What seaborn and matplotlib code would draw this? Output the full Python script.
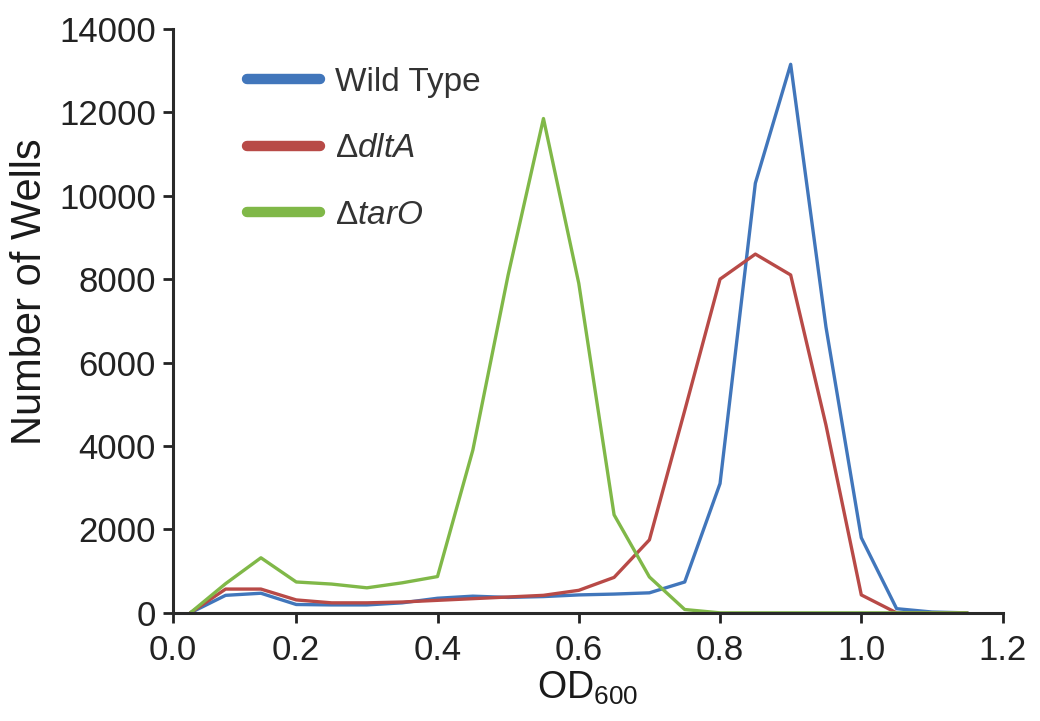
import numpy as np
import pandas as pd
import matplotlib
matplotlib.use("Agg")
import matplotlib.pyplot as plt
from matplotlib.lines import Line2D
import seaborn as sns

# OD600 bins
od = [0.05, 0.10, 0.15, 0.20, 0.25, 0.30, 0.35, 0.40, 0.45, 0.50, 0.55,
      0.60, 0.65, 0.70, 0.75, 0.80, 0.85, 0.90, 0.95, 1.00, 1.05, 1.10, 1.15]

wild_type = [0, 420, 470, 200, 190, 190, 240, 350, 400, 370, 390,
             430, 450, 480, 740, 3100, 10300, 13150, 6850, 1800, 100, 20, 0]
dlta = [0, 570, 570, 310, 240, 240, 260, 300, 340, 380, 420,
        540, 850, 1750, 4850, 8000, 8600, 8100, 4500, 430, 0, 0, 0]
taro = [0, 700, 1320, 740, 690, 600, 720, 870, 3900, 8100, 11850,
        7900, 2350, 860, 80, 0, 0, 0, 0, 0, 0, 0, 0]

strains = ["Wild Type", "dltA", "tarO"]
labels = ["Wild Type", r"$\Delta$$\it{dltA}$", r"$\Delta$$\it{tarO}$"]
colors = ["#4176bb", "#b84a47", "#80b848"]

xticks = [0.025, 0.2, 0.4, 0.6, 0.8, 1.0, 1.2]
xticklabels = ["0.0", "0.2", "0.4", "0.6", "0.8", "1.0", "1.2"]
yticks = [0, 2000, 4000, 6000, 8000, 10000, 12000, 14000]

df = pd.DataFrame({
    "OD": od * 3,
    "Wells": wild_type + dlta + taro,
    "Strain": np.repeat(strains, len(od)),
})

sns.set_style("ticks")
plt.rcParams["font.family"] = ["Liberation Sans", "DejaVu Sans"]
plt.rcParams["mathtext.fontset"] = "custom"
plt.rcParams["mathtext.rm"] = "Liberation Sans"
plt.rcParams["mathtext.it"] = "Liberation Sans:italic"

fig = plt.figure(figsize=(10.4, 7.21), dpi=100)
ax = fig.add_axes([0.166, 0.150, 0.798, 0.81])

sns.lineplot(data=df, x="OD", y="Wells", hue="Strain", palette=colors,
             linewidth=2.4, legend=False, ax=ax)

ax.set_xlim(0.025, 1.2)
ax.set_ylim(0, 14000)
ax.set_xticks(xticks)
ax.set_xticklabels(xticklabels)
ax.set_yticks(yticks)
ax.tick_params(axis="both", labelsize=25, colors="#222222", width=2,
               length=7, direction="out", pad=5)
ax.tick_params(axis="x", pad=8)
for s in ["top", "right"]:
    ax.spines[s].set_visible(False)
for s in ["left", "bottom"]:
    ax.spines[s].set_linewidth(2.2)
    ax.spines[s].set_color("#2a2a2a")

ax.set_xlabel(r"OD$_{\mathregular{600}}$", fontsize=27, color="#1a1a1a",
              labelpad=2)
ax.set_ylabel("Number of Wells", fontsize=30, color="#1a1a1a")
ax.yaxis.set_label_coords(-0.148, 0.55)

handles = [Line2D([0], [0], color=c, lw=7.5, solid_capstyle="round")
           for c in colors]
leg = ax.legend(handles, labels, loc="upper left",
                bbox_to_anchor=(0.089, 0.935), frameon=False, fontsize=24,
                handlelength=2.2, labelspacing=1.07, handletextpad=0.45,
                borderpad=0, borderaxespad=0)
for t in leg.get_texts():
    t.set_color("#333333")

fig.savefig("out.png", dpi=100)
